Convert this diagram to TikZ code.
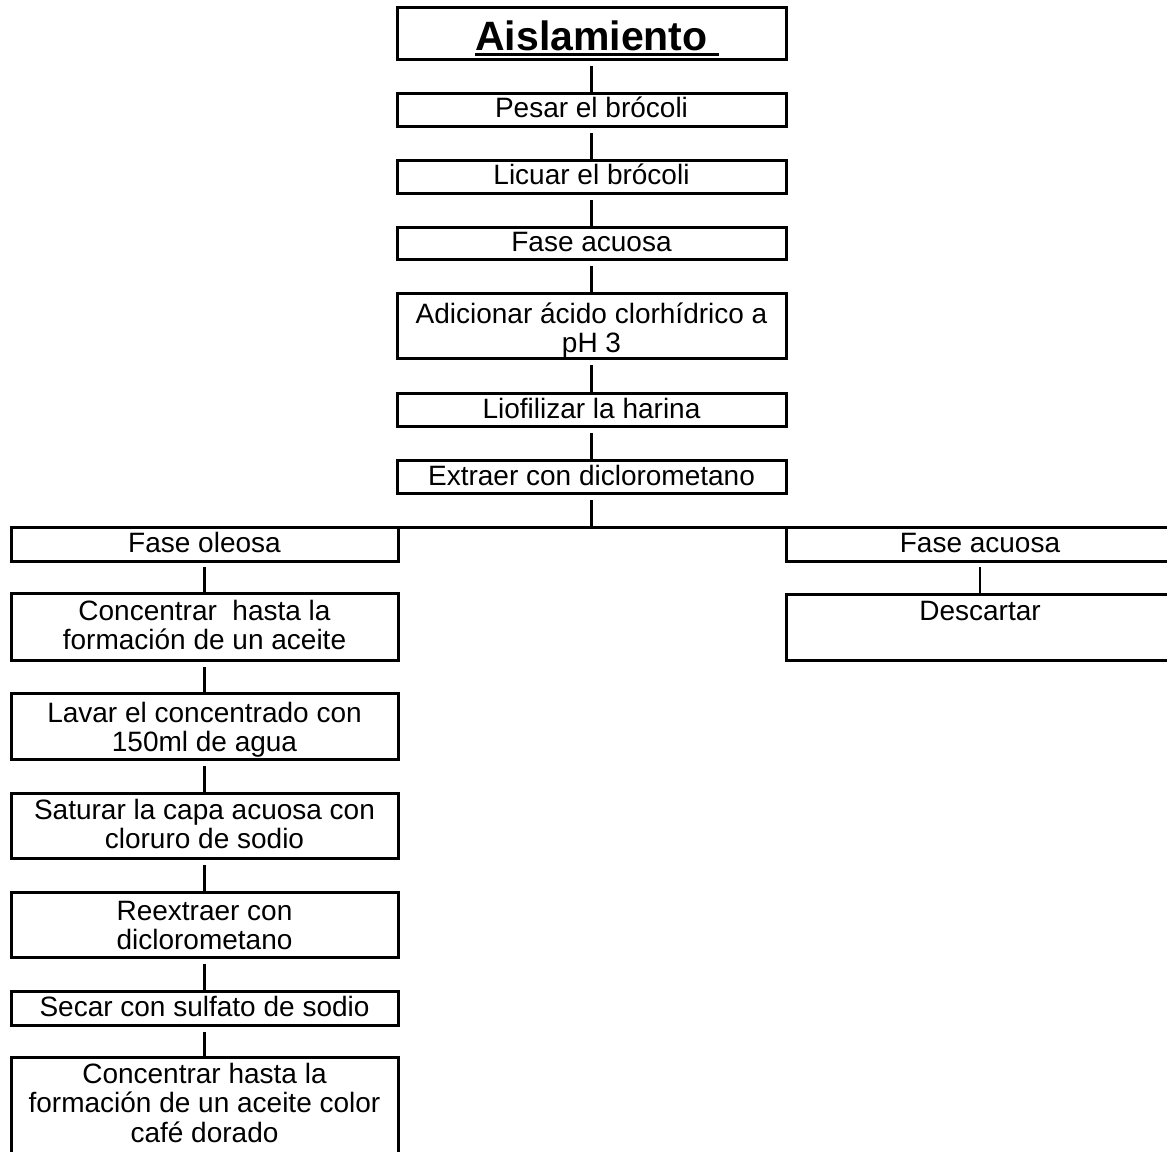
\documentclass[tikz,border=0pt]{standalone}
\usepackage{fontspec}
\setmainfont{Liberation Sans}
\newcommand\btext[4]{\parbox[t][#1][t]{#2}{\centering\rule{0pt}{#3}#4}}
\newcommand\ttlul[1]{\setbox0\hbox{#1\ }\rlap{\rule[-6pt]{\wd0}{3pt}}#1}
\tikzset{
  box/.style={draw=black, line width=3pt, inner sep=0pt, outer sep=0pt, anchor=north west,
    font=\fontsize{28}{29.5}\selectfont},
  conn/.style={draw=black, line width=2.2pt},
  bar/.style={draw=black, line width=3pt},
}
\begin{document}
\begin{tikzpicture}[x=1pt, y=-1pt]
\path[use as bounding box, clip] (0,0) rectangle (1167,1151);
\fill[white] (0,0) rectangle (1167,1151);
% centre column
\node[box] (title) at (397,7) {\btext{52pt}{389pt}{43pt}{\fontsize{41}{44}\selectfont\bfseries\ttlul{Aislamiento}}};
\node[box] (pesar) at (397,93) {\btext{33pt}{389pt}{24.5pt}{Pesar el brócoli}};
\node[box] (licuar) at (397,160) {\btext{33pt}{389pt}{24pt}{Licuar el brócoli}};
\node[box] (fase) at (397,227) {\btext{32pt}{389pt}{24pt}{Fase acuosa}};
\node[box] (adic) at (397,293) {\btext{65pt}{389pt}{30pt}{Adicionar ácido clorhídrico a\\pH 3}};
\node[box] (liof) at (397,393) {\btext{33pt}{389pt}{25pt}{Liofilizar la harina}};
\node[box] (extr) at (397,460) {\btext{33pt}{389pt}{25pt}{Extraer con diclorometano}};
% left column
\node[box] (oleosa) at (11,527) {\btext{34pt}{387pt}{25pt}{Fase oleosa}};
\node[box] (conc) at (11,593) {\btext{67pt}{387pt}{27pt}{Concentrar\ \ hasta la\\formación de un aceite}};
\node[box] (lavar) at (11,693) {\btext{66pt}{387pt}{29pt}{Lavar el concentrado con\\150ml de agua}};
\node[box] (satur) at (11,793) {\btext{65pt}{387pt}{26pt}{Saturar la capa acuosa con\\cloruro de sodio}};
\node[box] (reext) at (11,892) {\btext{65pt}{387pt}{28pt}{Reextraer con\\diclorometano}};
\node[box] (secar) at (11,991) {\btext{34pt}{387pt}{25pt}{Secar con sulfato de sodio}};
\node[box] (final) at (11,1057) {\btext{110pt}{387pt}{26pt}{Concentrar hasta la\\formación de un aceite color\\café dorado}};
% right column
\node[box] (acuosa) at (786,527) {\btext{34pt}{388pt}{25pt}{Fase acuosa}};
\node[box] (desc) at (786,594) {\btext{66pt}{388pt}{26pt}{Descartar}};
% connectors
\draw[conn] ([yshift=-7pt]title.south) -- (pesar.north);
\draw[conn] ([yshift=-7pt]pesar.south) -- (licuar.north);
\draw[conn] ([yshift=-7pt]licuar.south) -- (fase.north);
\draw[conn] ([yshift=-7pt]fase.south) -- (adic.north);
\draw[conn] ([yshift=-7pt]adic.south) -- (liof.north);
\draw[conn] ([yshift=-7pt]liof.south) -- (extr.north);
\coordinate (split) at (extr.south |- oleosa.north);
\draw[conn] ([yshift=-7pt]extr.south) -- (split);
\draw[bar] (oleosa.north east) -- (acuosa.north west);
\draw[conn] ([yshift=-6pt]oleosa.south) -- (conc.north);
\draw[conn] ([yshift=-7pt]conc.south) -- (lavar.north);
\draw[conn] ([yshift=-7pt]lavar.south) -- (satur.north);
\draw[conn] ([yshift=-7pt]satur.south) -- (reext.north);
\draw[conn] ([yshift=-7pt]reext.south) -- (secar.north);
\draw[conn] ([yshift=-7pt]secar.south) -- (final.north);
\draw[conn] ([yshift=-6pt]acuosa.south) -- (desc.north);
\end{tikzpicture}
\end{document}
